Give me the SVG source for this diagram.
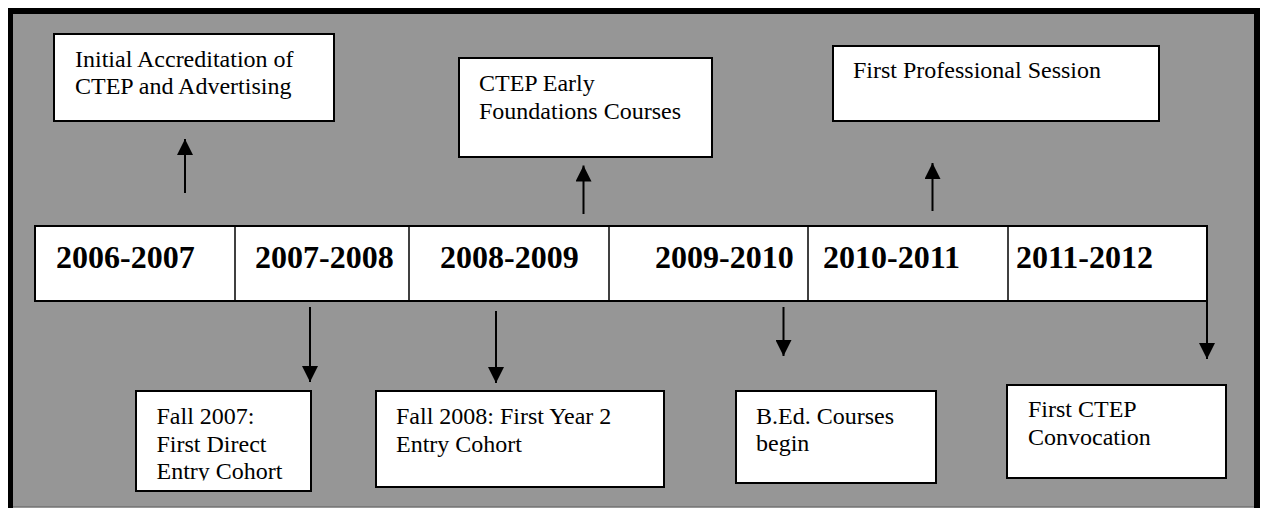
<svg xmlns="http://www.w3.org/2000/svg" width="1262" height="508" viewBox="0 0 1262 508">
<style>
.box{fill:#fff;stroke:#000;stroke-width:2}
.t{font-family:"Liberation Serif","Times New Roman",serif;font-size:24px;fill:#000}
.y{font-family:"Liberation Serif","Times New Roman",serif;font-size:32px;font-weight:bold;fill:#000}
.c{stroke:#000;stroke-width:2;fill:none;marker-end:url(#ah)}
.div{stroke:#000;stroke-width:1.5}
</style>
<defs>
<marker id="ah" markerUnits="userSpaceOnUse" markerWidth="16" markerHeight="16" refX="16" refY="8" orient="auto">
<path d="M0,0 L16,8 L0,16 z" fill="#000"/>
</marker>
<clipPath id="clip4"><rect x="136" y="391" width="175" height="89.5"/></clipPath>
</defs>
<rect x="0" y="0" width="1262" height="508" fill="#fff"/>
<g id="frame">
<rect x="8" y="8" width="1252" height="500" fill="#969696"/>
<rect x="8" y="8" width="1252" height="6" fill="#000"/>
<rect x="8" y="8" width="5" height="500" fill="#000"/>
<rect x="1254" y="8" width="6" height="500" fill="#000"/>
<line x1="13" y1="506.5" x2="1254" y2="506.5" stroke="#7a7a7a" stroke-width="1"/>
</g>
<g id="timeline">
<rect class="box" x="35" y="226" width="1172" height="75"/>
<line class="div" x1="235" y1="226" x2="235" y2="301"/>
<line class="div" x1="409" y1="226" x2="409" y2="301"/>
<line class="div" x1="609" y1="226" x2="609" y2="301"/>
<line class="div" x1="808" y1="226" x2="808" y2="301"/>
<line class="div" x1="1008" y1="226" x2="1008" y2="301"/>
<text class="y" x="56" y="268">2006-2007</text>
<text class="y" x="255" y="268">2007-2008</text>
<text class="y" x="440" y="268">2008-2009</text>
<text class="y" x="655" y="268">2009-2010</text>
<text class="y" x="823" y="268">2010-2011</text>
<text class="y" x="1016" y="268">2011-2012</text>
</g>
<g id="n1">
<rect class="box" x="54" y="34" width="280" height="87"/>
<text class="t" x="75" y="67">Initial Accreditation of</text>
<text class="t" x="75" y="94">CTEP and Advertising</text>
</g>
<g id="n2">
<rect class="box" x="459" y="58" width="253" height="99"/>
<text class="t" x="479" y="91">CTEP Early</text>
<text class="t" x="479" y="118.5">Foundations Courses</text>
</g>
<g id="n3">
<rect class="box" x="833" y="46" width="326" height="75"/>
<text class="t" x="853" y="78">First Professional Session</text>
</g>
<g id="n4">
<rect class="box" x="136" y="391" width="175" height="100"/>
<g clip-path="url(#clip4)">
<text class="t" x="156.5" y="424">Fall 2007:</text>
<text class="t" x="156.5" y="451.5">First Direct</text>
<text class="t" x="156.5" y="479">Entry Cohort</text>
</g>
</g>
<g id="n5">
<rect class="box" x="376" y="391" width="288" height="96"/>
<text class="t" x="396" y="424">Fall 2008: First Year 2</text>
<text class="t" x="396" y="451.5">Entry Cohort</text>
</g>
<g id="n6">
<rect class="box" x="736" y="391" width="200" height="92"/>
<text class="t" x="756" y="423.5">B.Ed. Courses</text>
<text class="t" x="756" y="451">begin</text>
</g>
<g id="n7">
<rect class="box" x="1007" y="385" width="219" height="93"/>
<text class="t" x="1028" y="417">First CTEP</text>
<text class="t" x="1028" y="445">Convocation</text>
</g>
<g id="connectors">
<line class="c" x1="185" y1="193" x2="185" y2="139"/>
<line class="c" x1="583.5" y1="214" x2="583.5" y2="165.5"/>
<line class="c" x1="932.5" y1="211" x2="932.5" y2="163"/>
<line class="c" x1="310" y1="307" x2="310" y2="382"/>
<line class="c" x1="496" y1="311" x2="496" y2="383"/>
<line class="c" x1="783.5" y1="307" x2="783.5" y2="356"/>
<line class="c" x1="1207" y1="301" x2="1207" y2="359"/>
</g>
</svg>
